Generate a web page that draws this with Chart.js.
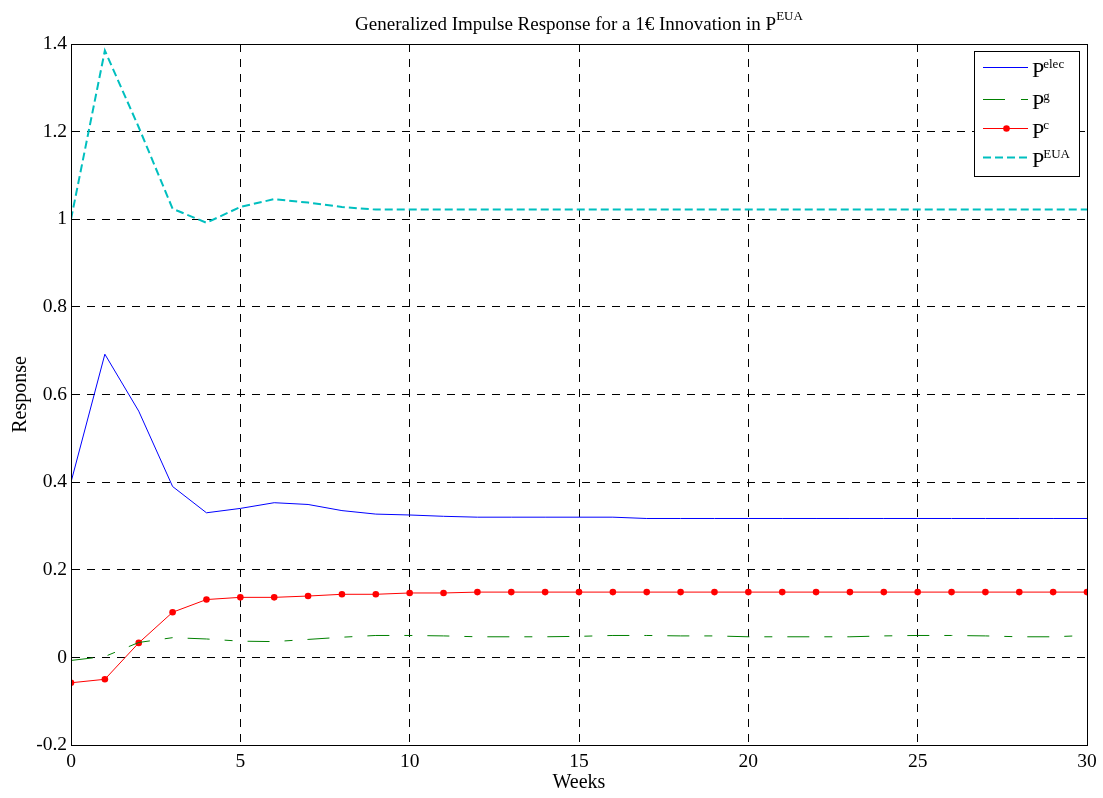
<!DOCTYPE html>
<html>
<head>
<meta charset="utf-8">
<script src="https://cdn.jsdelivr.net/npm/chart.js@4.4.0/dist/chart.umd.min.js"></script>
<style>
  html, body { margin: 0; padding: 0; background: #fff; }
  #wrap { width: 1103px; height: 798px; }
</style>
</head>
<body>
<div id="wrap"><canvas id="irf" width="1103" height="798"></canvas></div>
<script>
// --- data ---
const weeks = [0,1,2,3,4,5,6,7,8,9,10,11,12,13,14,15,16,17,18,19,20,21,22,23,24,25,26,27,28,29,30];
const pElec = [0.400,0.692,0.562,0.390,0.330,0.340,0.353,0.349,0.335,0.327,0.325,0.322,0.320,0.320,0.320,0.320,0.320,
               0.317,0.317,0.317,0.317,0.317,0.317,0.317,0.317,0.317,0.317,0.317,0.317,0.317,0.317];
const pGas = [-0.007,0.002,0.034,0.045,0.042,0.037,0.036,0.041,0.046,0.050,0.050,0.049,0.047,0.047,0.047,0.048,0.050,
              0.050,0.049,0.049,0.047,0.047,0.047,0.047,0.049,0.050,0.050,0.049,0.047,0.047,0.050];
const pCoal = [-0.058,-0.050,0.033,0.103,0.132,0.137,0.137,0.140,0.144,0.144,0.147,0.147,
               0.149,0.149,0.149,0.149,0.149,0.149,0.149,0.149,0.149,0.149,0.149,0.149,0.149,0.149,0.149,0.149,0.149,0.149,0.149];
const pEua = [1.000,1.385,1.210,1.024,0.992,1.028,1.046,1.038,1.028,1.022,
              1.022,1.022,1.022,1.022,1.022,1.022,1.022,1.022,1.022,1.022,1.022,1.022,1.022,1.022,1.022,1.022,1.022,1.022,1.022,1.022,1.022];
const legendSups = ['elec', 'g', 'c', 'EUA'];
const xTicks = [0, 5, 10, 15, 20, 25, 30];
const yTicks = [-0.2, 0, 0.2, 0.4, 0.6, 0.8, 1, 1.2, 1.4];

const FONT = '"Liberation Serif", "Times New Roman", serif';

function pts(ys) {
    return weeks.map((w, i) => ({ x: w, y: ys[i] }));
}

// title, axis labels, box and legend drawn by hand (superscripts)
const decorPlugin = {
    id: 'decor',
    afterDraw(chart) {
        const ctx = chart.ctx;
        const a = chart.chartArea;
        ctx.save();

        // box around axes
        ctx.strokeStyle = '#000';
        ctx.lineWidth = 1;
        ctx.setLineDash([]);
        ctx.strokeRect(Math.round(a.left) + 0.5, Math.round(a.top) + 0.5,
                       Math.round(a.right - a.left), Math.round(a.bottom - a.top));

        // title
        ctx.fillStyle = '#000';
        ctx.textBaseline = 'alphabetic';
        const main = 'Generalized Impulse Response for a 1€ Innovation in P';
        ctx.font = '19px ' + FONT;
        const w1 = ctx.measureText(main).width;
        ctx.font = '13px ' + FONT;
        const w2 = ctx.measureText('EUA').width;
        let tx = (a.left + a.right) / 2 - (w1 + w2) / 2;
        ctx.font = '19px ' + FONT;
        ctx.textAlign = 'left';
        ctx.fillText(main, tx, 30);
        ctx.font = '13px ' + FONT;
        ctx.fillText('EUA', tx + w1, 20);

        // axis titles
        ctx.font = '20px ' + FONT;
        ctx.textAlign = 'center';
        ctx.fillText('Weeks', (a.left + a.right) / 2, 788);
        ctx.save();
        ctx.translate(26, (a.top + a.bottom) / 2);
        ctx.rotate(-Math.PI / 2);
        ctx.fillText('Response', 0, 0);
        ctx.restore();

        // legend
        const lx = 974, ly = 51, lw = 105, lh = 125;
        ctx.fillStyle = '#fff';
        ctx.fillRect(lx, ly, lw, lh);
        ctx.strokeStyle = '#000';
        ctx.lineWidth = 1;
        ctx.strokeRect(lx + 0.5, ly + 0.5, lw, lh);
        const rows = [67, 99, 128, 157];
        chart.data.datasets.forEach((ds, i) => {
            const y = rows[i] + 0.5;
            ctx.strokeStyle = ds.borderColor;
            ctx.lineWidth = ds.borderWidth;
            ctx.setLineDash(ds.legendDash || ds.borderDash || []);
            ctx.beginPath();
            ctx.moveTo(983, y);
            ctx.lineTo(1028, y);
            ctx.stroke();
            ctx.setLineDash([]);
            if (ds.pointRadius > 0) {
                ctx.fillStyle = ds.pointBackgroundColor;
                ctx.beginPath();
                ctx.arc(1006.5, y, ds.pointRadius, 0, Math.PI * 2);
                ctx.fill();
            }
            ctx.fillStyle = '#000';
            ctx.textAlign = 'left';
            ctx.font = '22px ' + FONT;
            ctx.fillText('P', 1032, rows[i] + 10);
            const pw = ctx.measureText('P').width;
            ctx.font = '13px ' + FONT;
            ctx.fillText(legendSups[i], 1031 + pw, rows[i] + 1);
        });
        ctx.restore();
    }
};

const ctx = document.getElementById('irf').getContext('2d');
new Chart(ctx, {
    type: 'line',
    data: {
        datasets: [
            { label: 'elec', data: pts(pElec), borderColor: '#0000ff', borderWidth: 1,
              pointRadius: 0, tension: 0 },
            { label: 'g', data: pts(pGas), borderColor: '#008000', borderWidth: 1,
              borderDash: [22, 15, 8, 15], legendDash: [22, 16, 7, 20], pointRadius: 0, tension: 0 },
            { label: 'c', data: pts(pCoal), borderColor: '#ff0000', borderWidth: 1,
              pointRadius: 3.3, pointBackgroundColor: '#ff0000', pointBorderWidth: 0, tension: 0 },
            { label: 'EUA', data: pts(pEua), borderColor: '#00bfbf', borderWidth: 2,
              borderDash: [8, 4], pointRadius: 0, tension: 0 }
        ]
    },
    options: {
        responsive: false,
        animation: false,
        events: [],
        layout: { padding: { top: 44, right: 16, left: 0, bottom: 0 } },
        plugins: {
            legend: { display: false },
            title: { display: false },
            tooltip: { enabled: false }
        },
        scales: {
            x: {
                type: 'linear', min: 0, max: 30,
                afterBuildTicks: s => { s.ticks = xTicks.map(v => ({ value: v })); },
                afterFit: s => { s.height = 798 - 44 - 701; },
                grid: { color: '#000', drawTicks: false, lineWidth: 1 },
                border: { display: true, color: '#000', dash: [8, 7] },
                ticks: { color: '#000', padding: 5, font: { family: FONT, size: 19.5 }, maxRotation: 0 }
            },
            y: {
                min: -0.2, max: 1.4,
                afterBuildTicks: s => { s.ticks = yTicks.map(v => ({ value: v })); },
                afterFit: s => { s.width = 71; },
                grid: { color: '#000', drawTicks: false, lineWidth: 1 },
                border: { display: true, color: '#000', dash: [8, 7] },
                ticks: { color: '#000', padding: 4, font: { family: FONT, size: 19.5 },
                         callback: v => String(Math.round(v * 10) / 10) }
            }
        }
    },
    plugins: [decorPlugin]
});
</script>
</body>
</html>
